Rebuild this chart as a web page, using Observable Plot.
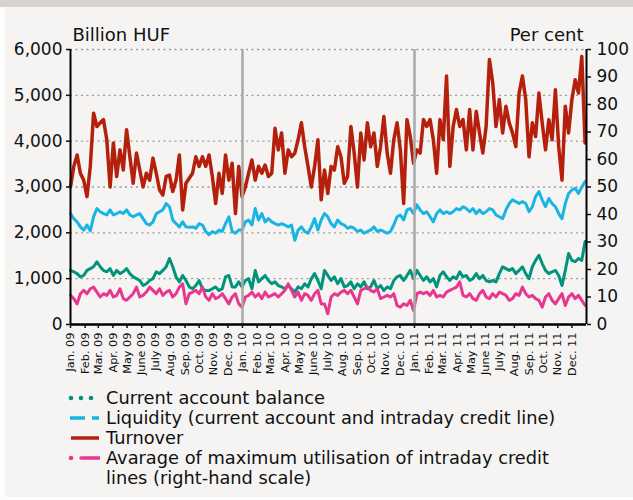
<!DOCTYPE html>
<html><head><meta charset="utf-8">
<script src="https://cdn.jsdelivr.net/npm/d3@7"></script>
<script src="https://cdn.jsdelivr.net/npm/@observablehq/plot@0.6"></script>
<style>
body{margin:0;background:#fdfdfc;font-family:"DejaVu Sans",sans-serif;width:633px;height:500px;overflow:hidden;position:relative}
#band{position:absolute;left:0;top:0;width:633px;height:7px;background:#d8d2ce}
#panel{position:absolute;left:5px;top:7px;width:628px;height:490px;background:#f5f4f2}
#chart{position:absolute;left:0;top:7px}
#legend{position:absolute;left:68px;top:388px;font-size:17.8px;color:#111;line-height:20px}
.row{display:flex;align-items:flex-start}
.row svg{flex:none;margin-right:6px}
.row span{white-space:pre-line}
</style></head><body>
<div id="band"></div>
<div id="panel"></div>
<div id="chart"></div>
<div id="legend"></div>
<script>
// weekly observations starting 1 Jan 2009
const startDate = Date.UTC(2009,0,1);
const turnover = [3000,3450,3700,3300,3150,2790,3450,4610,4320,4400,4470,4030,3000,3960,3230,3810,3370,4250,3660,3080,3740,3370,3000,3300,3150,3630,3300,2935,2825,3230,3260,2900,3150,3700,2500,3080,3190,3300,3660,
3450,3660,3450,3700,3230,2640,3300,2860,3700,3150,3520,2420,3450,2790,3000,3300,3590,3150,3450,3300,3480,3230,3300,4280,3810,4180,3300,3810,3660,3740,4030,4400,3880,3450,3000,3450,4030,2720,
3370,2860,3450,3370,3880,3660,3080,3230,4320,3740,3000,4180,3590,4400,3880,4180,3450,3880,4540,3740,3300,4030,4400,3810,2640,4470,4100,3520,3810,3740,4470,4320,4470,4030,3300,4470,4030,5420,3450,4320,4690,
4320,4470,3810,4690,3810,4650,4180,3740,4320,5780,5270,4320,4910,4180,4760,4400,4180,3880,5050,5420,4910,3660,4400,4100,5050,4400,3810,4470,4030,5120,3880,3150,4760,4180,4910,5340,5050,5850,3960];
const liquidity = [2420,2310,2240,2130,2060,2170,2040,2350,2530,2460,2420,2390,2500,2390,2420,2460,2420,2500,2390,2350,2390,2420,2310,2200,2170,2240,2420,2460,2500,2640,2570,2280,2200,2130,2240,2130,2120,2130,2100,
2200,2170,2030,1960,2030,1990,2060,2030,2200,2350,2030,1990,2060,2060,2240,2280,2170,2530,2280,2420,2240,2310,2240,2200,2170,2200,2170,2130,2170,1840,2060,2130,2030,1990,2130,2310,2060,2280,
2420,2350,2200,2130,2280,2200,2170,2100,2130,2100,2030,2060,1990,2030,2060,2130,2030,2060,2030,1990,2030,2170,2350,2390,2280,2500,2530,2420,2610,2500,2420,2460,2350,2240,2420,2500,2420,2460,2420,2460,2530,
2500,2570,2530,2460,2530,2420,2500,2420,2460,2530,2500,2390,2350,2310,2500,2640,2720,2680,2640,2680,2640,2460,2570,2790,2900,2720,2570,2750,2640,2570,2420,2310,2640,2860,2935,2970,2860,3000,3120];
const currentAccount = [1180,1150,1110,1040,1070,1180,1220,1260,1370,1260,1180,1150,1220,1070,1180,1110,1150,1220,1110,1040,1000,960,850,890,960,1000,1150,1110,1180,1260,1440,1260,1040,930,1070,960,820,780,850,
960,780,740,740,780,820,740,780,1040,1070,820,820,930,820,960,1000,780,1180,930,1000,1070,960,890,930,850,820,780,850,780,710,820,780,890,820,1000,1110,960,780,
1180,1070,960,1040,890,1000,820,850,930,780,890,820,930,780,820,960,780,850,740,820,780,960,1040,1070,960,1070,1180,1000,1180,1070,960,1040,930,1000,820,1070,1150,1040,960,1040,1000,
1150,1040,1070,960,1000,1110,1000,1070,960,930,960,930,1110,1260,1220,1180,1220,1110,1180,1260,1110,1000,1260,1400,1510,1330,1180,1110,1150,1180,1070,850,1180,1550,1400,1370,1440,1400,1810];
// per cent (right-hand scale)
const utilisation = [10.6,9.4,7.5,11.2,12.4,11.2,13.0,13.6,11.8,10.0,11.2,10.6,12.4,10.0,10.6,13.0,9.4,8.8,10.0,11.2,13.6,10.0,10.6,11.8,13.6,12.4,11.2,13.0,10.6,11.8,12.4,10.0,11.2,13.6,14.8,7.5,11.2,11.8,12.4,
11.2,13.6,10.0,8.8,11.2,9.4,10.0,11.2,9.4,7.5,10.0,11.2,7.5,6.3,10.0,10.6,11.8,10.0,11.2,9.4,11.8,10.0,10.6,11.2,10.0,11.2,12.4,14.8,12.4,10.0,11.8,8.8,11.2,10.6,8.8,11.2,12.4,7.5,
7.5,3.9,10.0,11.2,10.6,11.8,12.4,11.2,12.4,10.0,7.5,12.4,13.0,13.6,12.4,11.8,13.0,9.4,10.0,10.6,10.0,11.2,6.9,6.3,7.5,6.9,8.8,5.1,11.2,11.8,11.2,11.8,10.6,12.4,10.0,10.6,10.0,11.8,12.4,13.0,13.6,
15.5,10.6,10.0,11.2,9.4,8.8,11.2,12.4,10.0,9.4,11.2,10.0,11.8,11.2,10.6,8.8,9.4,11.2,10.6,13.6,11.2,10.0,10.6,9.4,8.8,6.3,10.0,11.2,8.8,7.5,9.4,11.2,6.9,10.0,11.2,9.4,10.6,8.8,6.9];

const years = [2009, 2010, 2011];
const yearShort = ["09", "10", "11"];
const monthNames = ["Jan.","Feb.","Mar.","Apr.","May","June","July","Aug.","Sep.","Oct.","Nov.","Dec."];
const leftTicks = [0,1000,2000,3000,4000,5000,6000];
const rightTicks = [0,10,20,30,40,50,60,70,80,90,100];
const leftMax = 6000, rightMax = 100;
const seriesNames = ["Current account balance","Liquidity (current account and intraday credit line)","Turnover","Avarage of maximum utilisation of intraday credit\nlines (right-hand scale)"];
const colors = {ca:"#00947d", liq:"#19b5e2", turn:"#b4200c", util:"#e8378e"};

const ratio = leftMax / rightMax;
const rows = turnover.map((t,i) => ({
  date: new Date(startDate + i*7*864e5),
  turnover: t, liquidity: liquidity[i], ca: currentAccount[i], util: utilisation[i]*ratio
}));
const monthTicks = years.flatMap(y => monthNames.map((m,i) => new Date(Date.UTC(y,i,1))));
const fmtMonth = d => monthNames[d.getUTCMonth()] + " " + yearShort[years.indexOf(d.getUTCFullYear())];
const xStart = new Date(Date.UTC(years[0],0,1));
const xEnd = new Date(Date.UTC(years[years.length-1]+1,0,1));
const yearBreaks = years.slice(1).map(y => new Date(Date.UTC(y,0,1)));

const chart = Plot.plot({
  width: 633, height: 373,
  marginTop: 42, marginBottom: 56, marginLeft: 70, marginRight: 47,
  style: {background: "transparent", fontFamily: "DejaVu Sans", fontSize: "17px", color: "#111"},
  x: {type: "utc", domain: [xStart, xEnd]},
  y: {domain: [0, leftMax]},
  marks: [
    Plot.ruleY(leftTicks.filter(d => d > 0), {stroke: "#9a9a9a", strokeDasharray: "2,3.5", strokeWidth: 1.3}),
    Plot.lineY(rows, {x: "date", y: "liquidity", stroke: colors.liq, strokeWidth: 3}),
    Plot.lineY(rows, {x: "date", y: "turnover", stroke: colors.turn, strokeWidth: 3.5}),
    Plot.lineY(rows, {x: "date", y: "ca", stroke: colors.ca, strokeWidth: 3}),
    Plot.lineY(rows, {x: "date", y: "util", stroke: colors.util, strokeWidth: 3}),
    Plot.ruleX(yearBreaks, {stroke: "#a8a8a8", strokeWidth: 2.5}),
    Plot.ruleX([xStart, xEnd], {stroke: "#000", strokeWidth: 2}),
    Plot.ruleY([0], {stroke: "#000", strokeWidth: 2.5}),
    Plot.axisY({anchor: "left", ticks: leftTicks, tickFormat: d3.format(","), tickSize: 4, tickPadding: 4, strokeWidth: 1.5, label: null}),
    Plot.axisY({anchor: "right", ticks: rightTicks.map(v => v*ratio), tickFormat: d => d/ratio, tickSize: 4, tickPadding: 6, strokeWidth: 1.5, label: null}),
    Plot.axisX({ticks: monthTicks, tickFormat: fmtMonth, tickRotate: -90, tickSize: 4, tickPadding: 4, fontSize: 11.3, strokeWidth: 1.5, label: null}),
    Plot.text(["Billion HUF"], {text: d => d, frameAnchor: "top-left", dx: 2, dy: -9, lineAnchor: "bottom", textAnchor: "start", fontSize: 18}),
    Plot.text(["Per cent"], {text: d => d, frameAnchor: "top-right", dx: -3, dy: -9, lineAnchor: "bottom", textAnchor: "end", fontSize: 18})
  ]
});
document.getElementById("chart").appendChild(chart);

// legend
const swatches = [
  g => { [3,13,23].forEach(cx => g.append("circle").attr("cx", cx).attr("cy", 10).attr("r", 2.3).attr("fill", colors.ca)); },
  g => { g.append("line").attr("x1",2).attr("x2",31).attr("y1",10).attr("y2",10).attr("stroke",colors.liq).attr("stroke-width",3.5).attr("stroke-dasharray","15,7"); },
  g => { g.append("line").attr("x1",3).attr("x2",31).attr("y1",10).attr("y2",10).attr("stroke",colors.turn).attr("stroke-width",3.5); },
  g => { g.append("circle").attr("cx",3).attr("cy",10).attr("r",2.3).attr("fill",colors.util);
         g.append("line").attr("x1",13).attr("x2",31).attr("y1",10).attr("y2",10).attr("stroke",colors.util).attr("stroke-width",3.5).attr("stroke-linecap","round"); }
];
const leg = d3.select("#legend");
seriesNames.forEach((name, i) => {
  const row = leg.append("div").attr("class", "row");
  const svg = row.append("svg").attr("width", 32).attr("height", 20);
  swatches[i](svg);
  row.append("span").text(name);
});
</script>
</body></html>
